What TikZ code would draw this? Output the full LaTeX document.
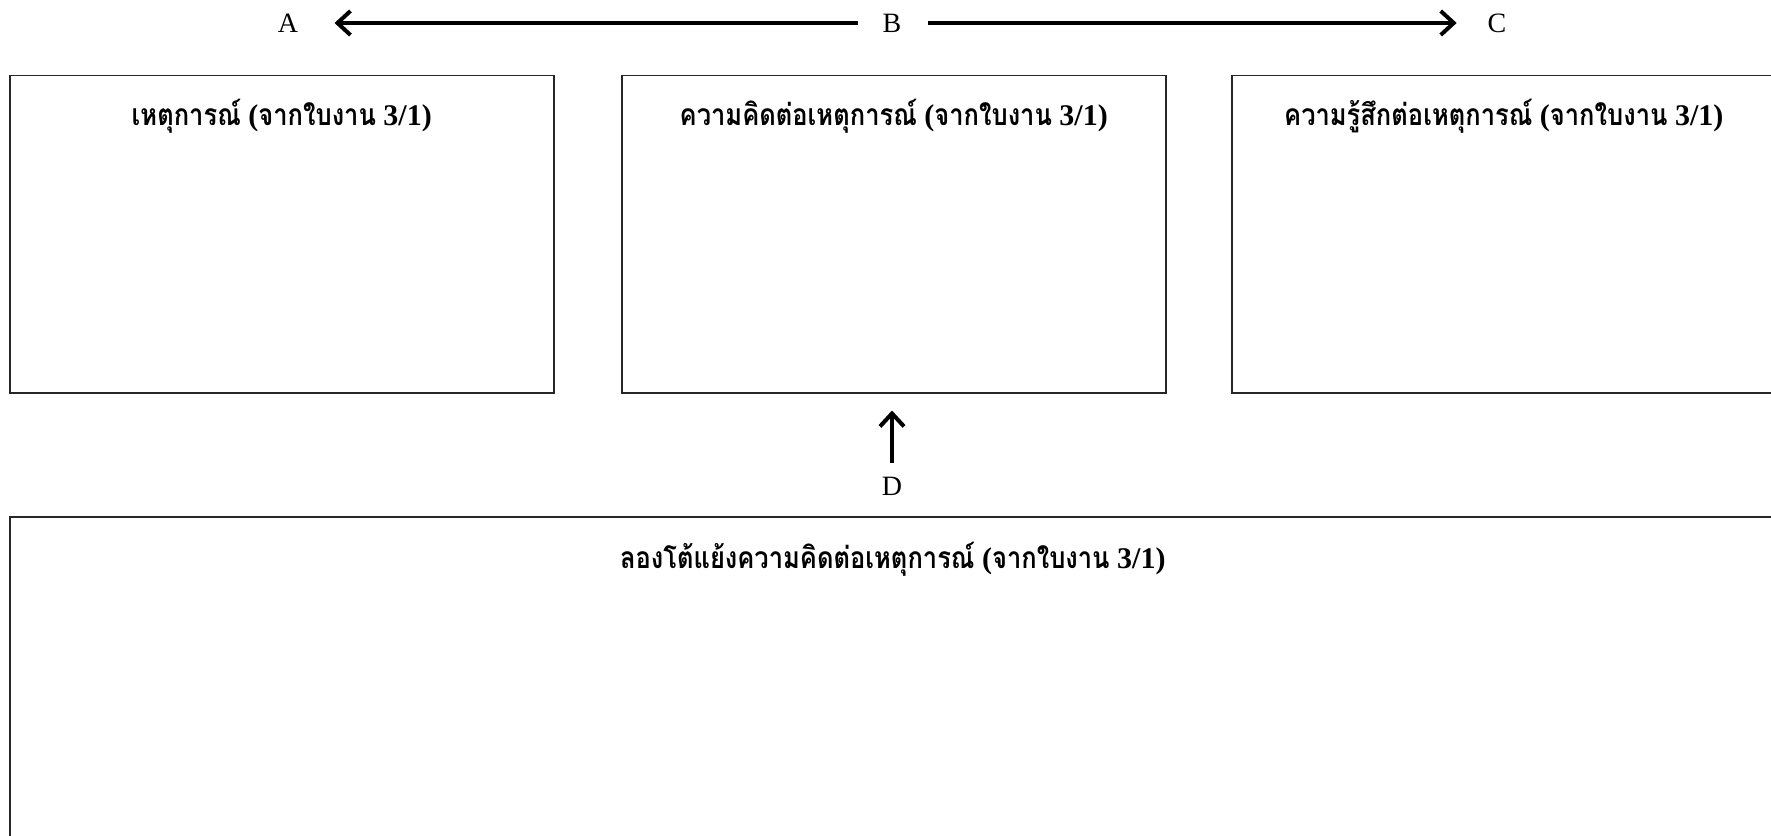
\documentclass[tikz,border=0pt]{standalone}
\usepackage{fontspec}
\setmainfont{Liberation Serif}
\newfontfamily\thaifont[Script=Thai, FakeStretch=0.85]{Loma}
\usetikzlibrary{arrows.meta,calc}
\tikzset{
  box/.style={draw=black!85, line width=0.75pt, minimum width=272pt, minimum height=158.75pt, inner sep=0pt, anchor=north west},
  bigbox/.style={draw=black!85, line width=0.75pt, minimum width=883pt, minimum height=200pt, inner sep=0pt, anchor=north west},
  ttl/.style={font=\bfseries\fontsize{15pt}{17pt}\selectfont, inner sep=0pt},
  lbl/.style={font=\fontsize{14pt}{16pt}\selectfont, inner sep=0pt},
  arr/.style={line width=2pt, -{Straight Barb[length=6.5pt, width=12pt, line width=2pt]}}
}
\newcommand{\thx}[1]{{\thaifont #1}}
\begin{document}
\begin{tikzpicture}[x=0.5pt, y=-0.5pt]
\useasboundingbox (0,0) rectangle (1771,835);
\node[box] (b1) at (9,74.5) {};
\node[box] (b2) at (621,74.5) {};
\node[box] (b3) at (1231,74.5) {};
\node[bigbox] (b4) at (9,516) {};
\node[ttl] (t1) at ($(b1.north)+(0,42)$) {\thx{เหตุการณ์} (\thx{จากใบงาน} 3/1)};
\node[ttl] (t2) at ($(b2.north)+(0,42)$) {\thx{ความคิดต่อเหตุการณ์} (\thx{จากใบงาน} 3/1)};
\node[ttl] (t3) at ($(b3.north)+(0,42)$) {\thx{ความรู้สึกต่อเหตุการณ์} (\thx{จากใบงาน} 3/1)};
\node[ttl] (t4) at ($(b4.north)+(0,43)$) {\thx{ลองโต้แย้งความคิดต่อเหตุการณ์} (\thx{จากใบงาน} 3/1)};
\node[lbl] (A) at (288,23) {A};
\node[lbl] (B) at (892,23) {B};
\node[lbl] (C) at (1497,23) {C};
\node[lbl] (D) at (892,486) {D};
\draw[arr, shorten <=12.3pt, shorten >=18pt] (B) -- (A);
\draw[arr, shorten <=13.3pt, shorten >=15.3pt] (B) -- (C);
\draw[arr, shorten <=6.9pt, shorten >=8.5pt] (D) -- (D |- b2.south);
\end{tikzpicture}
\end{document}
